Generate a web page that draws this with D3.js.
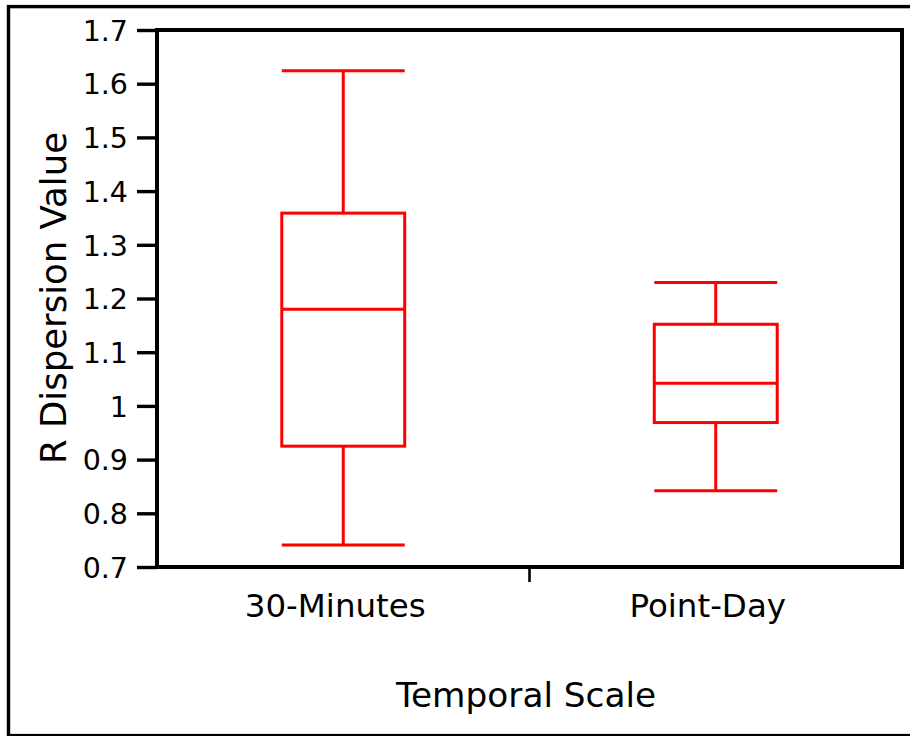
<!DOCTYPE html>
<html>
<head>
<meta charset="utf-8">
<script src="https://cdn.jsdelivr.net/npm/d3@7"></script>
<style>
  body { margin: 0; background: #fff; }
  svg { display: block; font-family: 'DejaVu Sans', sans-serif; }
</style>
</head>
<body>
<svg id="chart" width="910" height="736"></svg>
<script>
const categories = ['30-Minutes', 'Point-Day'];
const whiskerLow = [0.741, 0.842];
const q1 = [0.925, 0.969];
const median = [1.180, 1.042];
const q3 = [1.359, 1.152];
const whiskerHigh = [1.624, 1.230];
const yTicks = [0.7, 0.8, 0.9, 1.0, 1.1, 1.2, 1.3, 1.4, 1.5, 1.6, 1.7];
const yTickLabels = ['0.7', '0.8', '0.9', '1', '1.1', '1.2', '1.3', '1.4', '1.5', '1.6', '1.7'];

const plotLeft = 157, plotRight = 902, plotTop = 30, plotBottom = 567;
const red = '#ff0000';

const svg = d3.select('#chart');

// outer frame
svg.append('rect')
  .attr('x', 8.5).attr('y', 6.6)
  .attr('width', 940).attr('height', 729)
  .attr('fill', 'none').attr('stroke', '#000').attr('stroke-width', 3.4);

const x = d3.scaleBand().domain(categories).range([plotLeft, plotRight]).padding(0);
const y = d3.scaleLinear().domain([0.7, 1.7]).range([plotBottom, plotTop]);

const boxes = categories.map((c, i) => ({
  cat: c, lo: whiskerLow[i], q1: q1[i], med: median[i], q3: q3[i], hi: whiskerHigh[i]
}));

// y axis
const yAxis = d3.axisLeft(y)
  .tickValues(yTicks)
  .tickSize(20)
  .tickPadding(9)
  .tickFormat((d, i) => yTickLabels[i]);

const gy = svg.append('g')
  .attr('transform', `translate(${plotLeft}, 0)`)
  .call(yAxis);
gy.select('.domain').remove();
gy.selectAll('.tick line').attr('stroke', '#000').attr('stroke-width', 3.4);
gy.selectAll('.tick text')
  .attr('fill', '#000')
  .attr('font-size', '28.5px')
  .attr('font-family', 'DejaVu Sans, sans-serif')
  .attr('dy', '0.36em');

// x tick between the categories
svg.append('line')
  .attr('x1', x(categories[1])).attr('x2', x(categories[1]))
  .attr('y1', plotBottom).attr('y2', plotBottom + 15)
  .attr('stroke', '#000').attr('stroke-width', 2.6);

// category labels
svg.selectAll('.cat')
  .data(categories)
  .enter()
  .append('text')
  .attr('class', 'cat')
  .attr('x', (d) => x(d) + x.bandwidth() / 2 - 8)
  .attr('y', 617)
  .attr('text-anchor', 'middle')
  .attr('font-size', '32.5px')
  .attr('fill', '#000')
  .text((d) => d);

// axis titles
svg.append('text')
  .attr('x', 526).attr('y', 707)
  .attr('text-anchor', 'middle')
  .attr('font-size', '34.3px')
  .attr('fill', '#000')
  .text('Temporal Scale');

svg.append('text')
  .attr('transform', 'translate(66, 298) rotate(-90)')
  .attr('text-anchor', 'middle')
  .attr('font-size', '35.5px')
  .attr('fill', '#000')
  .text('R Dispersion Value');

// boxes
const boxW = x.bandwidth() * 0.33;
const g = svg.append('g').attr('class', 'boxes');

const grp = g.selectAll('.box')
  .data(boxes)
  .enter()
  .append('g')
  .attr('class', 'box')
  .attr('transform', (d) => `translate(${x(d.cat) + x.bandwidth() / 2}, 0)`);

grp.append('line')
  .attr('x1', 0).attr('x2', 0)
  .attr('y1', (d) => y(d.hi)).attr('y2', (d) => y(d.q3));
grp.append('line')
  .attr('x1', 0).attr('x2', 0)
  .attr('y1', (d) => y(d.q1)).attr('y2', (d) => y(d.lo));
grp.append('line')
  .attr('x1', -boxW / 2).attr('x2', boxW / 2)
  .attr('y1', (d) => y(d.hi)).attr('y2', (d) => y(d.hi));
grp.append('line')
  .attr('x1', -boxW / 2).attr('x2', boxW / 2)
  .attr('y1', (d) => y(d.lo)).attr('y2', (d) => y(d.lo));
grp.append('rect')
  .attr('x', -boxW / 2).attr('width', boxW)
  .attr('y', (d) => y(d.q3))
  .attr('height', (d) => y(d.q1) - y(d.q3))
  .attr('fill', 'none');
grp.append('line')
  .attr('x1', -boxW / 2).attr('x2', boxW / 2)
  .attr('y1', (d) => y(d.med)).attr('y2', (d) => y(d.med));

grp.selectAll('line, rect')
  .attr('stroke', red)
  .attr('stroke-width', 3);

// plot frame
svg.append('rect')
  .attr('x', plotLeft).attr('y', plotTop)
  .attr('width', plotRight - plotLeft).attr('height', plotBottom - plotTop)
  .attr('fill', 'none').attr('stroke', '#000').attr('stroke-width', 4);
</script>
</body>
</html>
